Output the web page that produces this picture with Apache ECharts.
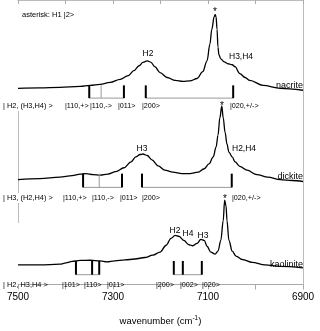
<!DOCTYPE html>
<html><head><meta charset="utf-8">
<script src="https://cdn.jsdelivr.net/npm/echarts@6/dist/echarts.min.js"></script>
<style>html,body{margin:0;padding:0;background:#fff}#c{width:320px;height:331px}</style>
</head><body><div id="c"></div>
<script>
// ---- data (wavenumber in cm-1, intensity in arbitrary offset units) ----
const nacriteWn  = [7500,7454,7412,7369,7348,7327,7306,7285,7268,7256,7245,7237,7228,7220,7212,7201,7186,7169,7153,7138,7123,7111,7102,7096,7092,7087,7085,7083,7081,7079,7077,7073,7066,7058,7049,7043,7033,7022,7012,6984,6948,6900];
const nacriteAbs = [2.00,2.005,2.01,2.02,2.03,2.04,2.06,2.09,2.13,2.18,2.23,2.265,2.28,2.265,2.22,2.16,2.11,2.08,2.07,2.075,2.10,2.17,2.28,2.45,2.60,2.73,2.75,2.73,2.60,2.42,2.34,2.30,2.27,2.25,2.24,2.22,2.15,2.11,2.08,2.03,2.00,1.98];

const dickiteWn  = [7500,7454,7412,7386,7369,7357,7342,7327,7311,7294,7277,7262,7252,7243,7237,7228,7218,7205,7191,7174,7155,7138,7121,7108,7098,7089,7083,7079,7075,7071,7068,7064,7060,7056,7049,7043,7033,7018,6997,6974,6948,6923,6900];
const dickiteAbs = [1.07,1.08,1.095,1.11,1.125,1.13,1.12,1.115,1.125,1.15,1.19,1.25,1.30,1.325,1.33,1.315,1.27,1.21,1.165,1.145,1.13,1.13,1.145,1.18,1.23,1.30,1.40,1.52,1.70,1.82,1.70,1.55,1.43,1.35,1.30,1.25,1.205,1.165,1.12,1.095,1.07,1.06,1.05];

const kaoliniteWn  = [7500,7454,7412,7399,7386,7369,7348,7327,7313,7296,7275,7254,7233,7216,7201,7188,7178,7169,7161,7151,7140,7132,7123,7115,7108,7102,7094,7085,7079,7073,7068,7065,7062,7060,7056,7049,7041,7028,7007,6980,6948,6900];
const kaoliniteAbs = [0.20,0.20,0.207,0.22,0.235,0.245,0.247,0.24,0.23,0.24,0.25,0.26,0.275,0.30,0.33,0.40,0.47,0.50,0.49,0.45,0.405,0.395,0.42,0.46,0.45,0.39,0.33,0.31,0.34,0.45,0.65,0.86,0.80,0.65,0.45,0.34,0.29,0.255,0.225,0.20,0.185,0.17];

// calculated band positions (cm-1)
const nacriteBands   = [7350, 7325, 7277, 7231, 7047];
const dickiteBands   = [7363, 7329, 7281, 7239, 7050];
const kaoliniteBands = [7378, 7344, 7329, 7172, 7153, 7113];
const nacriteBandLabels   = ['|110,+>', '|110,->', '|011>', '|200>', '|020,+/->'];
const dickiteBandLabels   = ['|110,+>', '|110,->', '|011>', '|200>', '|020,+/->'];
const kaoliniteBandLabels = ['|101>', '|110>', '|011>', '|200>', '|002>', '|020>'];
const xTicks = [7500, 7300, 7100, 6900];

// ---- layout (not data) ----
const FONT = '"Liberation Sans", Arial, Helvetica, sans-serif';
const bandLevels = { nacrite: [2.03, 1.90], dickite: [1.13, 0.99], kaolinite: [0.24, 0.10] };
const minorBand = { nacrite: [1], dickite: [1], kaolinite: [] };
const groups = { nacrite: [[0,2],[3,4]], dickite: [[0,2],[3,4]], kaolinite: [[0,2],[3,5]] };

const tickData = [], bracketData = [];
[['nacrite', nacriteBands], ['dickite', dickiteBands], ['kaolinite', kaoliniteBands]].forEach(([k, b]) => {
  b.forEach((wn, i) => tickData.push([wn, bandLevels[k][0], bandLevels[k][1], minorBand[k].includes(i) ? 1 : 0]));
  groups[k].forEach(([a, e]) => bracketData.push([b[a], b[e], bandLevels[k][1]]));
});

const zip = (a, b) => a.map((v, i) => [v, b[i]]);
const lineSeries = (name, wn, ab) => ({
  name, type: 'line', data: zip(wn, ab), showSymbol: false, symbol: 'none',
  smooth: 0.35, smoothMonotone: 'x', lineStyle: { color: '#000', width: 1.3 }, silent: true, z: 3
});

const chart = echarts.init(document.getElementById('c'), null, { renderer: 'canvas' });

function txt(text, x, y, size, align, vAlign) {
  return { type: 'text', x, y, style: { text, font: size + 'px ' + FONT, fill: '#000', textAlign: align || 'left', textVerticalAlign: vAlign || 'middle' }, z: 10 };
}

const graphics = [
  // partial left frame line (interrupted by the label rows)
  { type: 'line', shape: { x1: 18.5, y1: 111, x2: 18.5, y2: 193 }, style: { stroke: '#bbb', lineWidth: 1 }, z: 1 },
  { type: 'line', shape: { x1: 18.5, y1: 203, x2: 18.5, y2: 223 }, style: { stroke: '#bbb', lineWidth: 1 }, z: 1 },
  txt('asterisk: H1 |2>', 22, 15, 7.5),
  // nacrite
  txt('*', 215, 12, 10, 'center'),
  txt('H2', 148, 54, 8.5, 'center'),
  txt('H3,H4', 229, 57, 8.5),
  txt('nacrite', 303, 86, 9, 'right'),
  txt('| H2, (H3,H4) >', 3, 106, 7.4),
  // dickite
  txt('*', 222, 106, 10, 'center'),
  txt('H3', 142, 149, 8.5, 'center'),
  txt('H2,H4', 232, 149, 8.5),
  txt('dickite', 303, 177, 9, 'right'),
  txt('| H3, (H2,H4) >', 3, 198, 7.4),
  // kaolinite
  txt('*', 225, 199, 10, 'center'),
  txt('H2', 175, 231, 8.5, 'center'),
  txt('H4', 188, 234, 8.5, 'center'),
  txt('H3', 203, 236, 8.5, 'center'),
  txt('kaolinite', 303, 265, 9, 'right'),
  txt('| H2, H3,H4 >', 3, 285, 7.4)
];
const labelX = {
  nacrite:   [65, 90, 118, 142, 230],
  dickite:   [63, 92, 120, 142, 232],
  kaolinite: [62, 84, 107, 156, 180, 202]
};
const labelY = { nacrite: 106, dickite: 198, kaolinite: 285 };
[['nacrite', nacriteBandLabels], ['dickite', dickiteBandLabels], ['kaolinite', kaoliniteBandLabels]].forEach(([k, labs]) => {
  labs.forEach((t, i) => graphics.push(txt(t, labelX[k][i], labelY[k], 7.2)));
});

const axisCommon = {
  type: 'value', min: 6900, max: 7500, interval: 100, inverse: true,
  splitLine: { show: false }
};

chart.setOption({
  animation: false,
  grid: { left: 18, right: 17, top: 0, bottom: 41 },
  xAxis: [
    Object.assign({}, axisCommon, {
      position: 'bottom',
      axisLine: { show: true, lineStyle: { color: '#aaa', width: 1 } },
      axisTick: { show: true, inside: false, length: 5, lineStyle: { color: '#aaa' } },
      axisLabel: {
        color: '#000', fontSize: 10, fontFamily: FONT, margin: 8,
        formatter: v => (xTicks.includes(v) ? String(v) : '')
      },
      name: 'wavenumber (cm{sup|-1})', nameLocation: 'middle', nameGap: 30,
      nameTextStyle: {
        color: '#000', fontSize: 9.5, fontFamily: FONT,
        rich: { sup: { fontSize: 6.5, fontFamily: FONT, color: '#000', verticalAlign: 'bottom', padding: [0, 0, 6, 0] } }
      }
    }),
    Object.assign({}, axisCommon, {
      position: 'top',
      axisLine: { show: true, lineStyle: { color: '#bbb', width: 1 } },
      axisTick: { show: true, inside: true, length: 4, lineStyle: { color: '#aaa' } },
      axisLabel: { show: false }
    })
  ],
  yAxis: {
    type: 'value', min: 0, max: 2.9, position: 'right',
    axisLine: { show: true, lineStyle: { color: '#bbb' } },
    axisTick: { show: false }, axisLabel: { show: false }, splitLine: { show: false }
  },
  series: [
    lineSeries('nacrite', nacriteWn, nacriteAbs),
    lineSeries('dickite', dickiteWn, dickiteAbs),
    lineSeries('kaolinite', kaoliniteWn, kaoliniteAbs),
    {
      type: 'custom', data: bracketData, silent: true, z: 2,
      renderItem: (p, api) => {
        const a = api.coord([api.value(0), api.value(2)]);
        const b = api.coord([api.value(1), api.value(2)]);
        return { type: 'line', shape: { x1: a[0], y1: a[1], x2: b[0], y2: b[1] }, style: { stroke: '#999', lineWidth: 1 } };
      }
    },
    {
      type: 'custom', data: tickData, silent: true, z: 4,
      renderItem: (p, api) => {
        const a = api.coord([api.value(0), api.value(1)]);
        const b = api.coord([api.value(0), api.value(2)]);
        const minor = api.value(3) === 1;
        return { type: 'line', shape: { x1: a[0], y1: a[1], x2: b[0], y2: b[1] }, style: { stroke: minor ? '#999' : '#000', lineWidth: minor ? 1 : 2 } };
      }
    }
  ],
  graphic: graphics
});
</script></body></html>
